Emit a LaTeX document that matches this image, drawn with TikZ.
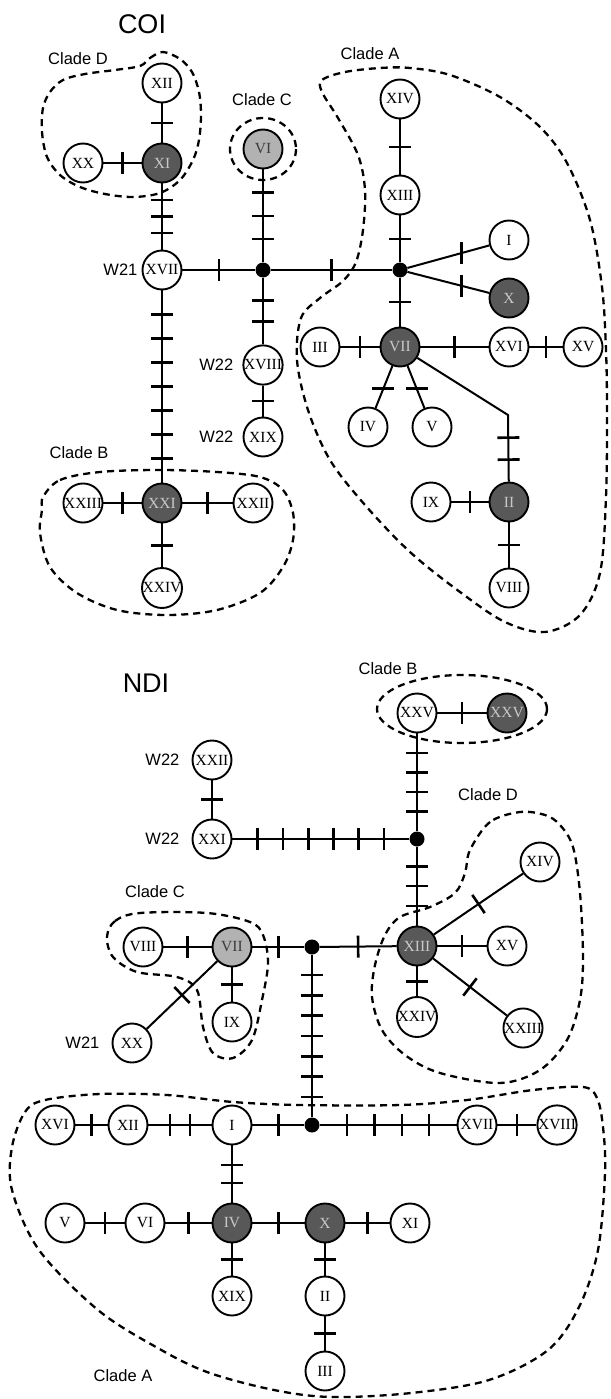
\documentclass[tikz,border=0pt]{standalone}
\usepackage{fontspec}
\setmainfont{Liberation Serif}
\newfontfamily\cladefont{Liberation Sans}
\usetikzlibrary{positioning}
\definecolor{hapdark}{RGB}{88,88,88}
\definecolor{haplight}{RGB}{178,178,178}
\definecolor{hapdarktext}{RGB}{200,200,200}
\definecolor{haplighttext}{RGB}{60,60,60}

\begin{document}
\begin{tikzpicture}[x=1pt,y=-1pt,
  hap/.style={draw,circle,line width=1.9pt,fill=white,minimum size=39pt,inner sep=0pt,
    font=\fontsize{15.5}{15.5}\selectfont},
  hapd/.style={hap,fill=hapdark,text=hapdarktext},
  hapl/.style={hap,fill=haplight,text=haplighttext},
  med/.style={circle,fill=black,minimum size=15pt,inner sep=0pt},
  link/.style={line width=2pt},
  mut/.style={sloped,fill=black,inner sep=0pt,minimum width=2.6pt,minimum height=22pt},
  muth/.style={fill=black,inner sep=0pt,minimum width=22pt,minimum height=2.6pt},
  mutv/.style={fill=black,inner sep=0pt,minimum width=2.6pt,minimum height=22pt},
  clade/.style={line width=2.3pt,dash pattern=on 7pt off 5pt},
  cladelbl/.style={font=\cladefont\fontsize{16.5}{18}\selectfont,inner sep=0pt},
  gene/.style={font=\cladefont\fontsize{27}{30}\selectfont,inner sep=0pt}
]
  \fill[white] (0,0) rectangle (610,1399);
  \useasboundingbox (0,0) rectangle (610,1399);

  % ---------------- COI ----------------
  \node[gene] (coi) at (142,24) {COI};

  % clades
  \draw[clade] plot[smooth cycle,tension=0.55] coordinates {(140,66) (150,58) (163,52) (180,59) (192,72)
    (199,92) (201,115) (199,140) (193,160) (180,180) (160,193) (133,197) (105,194) (80,187) (60,175)
    (47,157) (42,132) (43,108) (50,92) (63,80) (85,74) (115,70)};
  \draw[clade] (263,149) ellipse [x radius=33,y radius=31];
  \draw[clade] plot[smooth cycle,tension=0.55] coordinates {(43,497) (60,480) (100,472) (160,470)
    (217,472) (260,477) (283,490) (293,513) (293,540) (283,567) (260,593) (217,610) (167,615)
    (117,610) (77,593) (50,567) (40,533) (42,510)};
  \draw[clade] plot[smooth cycle,tension=0.55] coordinates {(322,80) (345,72) (380,68) (410,68)
    (450,75) (500,97) (540,127) (567,163) (590,220) (602,287) (606,350) (607,413) (606,497)
    (600,573) (580,615) (545,632) (505,622) (460,592) (410,552) (365,505) (330,460) (308,410)
    (297,360) (301,318) (320,298) (343,281) (356,262) (363,230) (365,190) (358,155) (338,118) (322,92)};
  \node[cladelbl] (coiD) at (78,59) {Clade D};
  \node[cladelbl] (coiC) at (262,100) {Clade C};
  \node[cladelbl] (coiA) at (370,54) {Clade A};
  \node[cladelbl] (coiB) at (79,453) {Clade B};

  % haplotypes
  \node[hap]  (cXII)   at (162,83)  {XII};
  \node[hapd] (cXI)    at (162,163) {XI};
  \node[hap]  (cXX)    at (83,163)  {XX};
  \node[hap]  (cXVII)  at (162,270) {XVII};
  \node[med]  (cm1)    at (263,270) {};
  \node[hapl] (cVI)    at (263,149) {VI};
  \node[hap]  (cXVIII) at (263,365) {XVIII};
  \node[hap]  (cXIX)   at (263,437) {XIX};
  \node[hapd] (cXXI)   at (162,503) {XXI};
  \node[hap]  (cXXIII) at (83,503)  {XXIII};
  \node[hap]  (cXXII)  at (253,503) {XXII};
  \node[hap]  (cXXIV)  at (162,588) {XXIV};
  \node[med]  (cm2)    at (400,270) {};
  \node[hap]  (cXIV)   at (400,99)  {XIV};
  \node[hap]  (cXIII)  at (400,195) {XIII};
  \node[hap]  (cI)     at (509,240) {I};
  \node[hapd] (cX)     at (509,298) {X};
  \node[hapd] (cVII)   at (400,347) {VII};
  \node[hap]  (cIII)   at (320,347) {III};
  \node[hap]  (cXVI)   at (509,347) {XVI};
  \node[hap]  (cXV)    at (583,347) {XV};
  \node[hap]  (cIV)    at (368,427) {IV};
  \node[hap]  (cV)     at (432,427) {V};
  \node[hapd] (cII)    at (509,502) {II};
  \node[hap]  (cIX)    at (431,502) {IX};
  \node[hap]  (cVIII)  at (509,588) {VIII};
  \coordinate (cbend) at (508,415);

  \node[cladelbl,left=4pt of cXVII]  (cw21)  {W21};
  \node[cladelbl,left=9pt of cXVIII] (cw22a) {W22};
  \node[cladelbl,left=9pt of cXIX]   (cw22b) {W22};

  % links and mutations
  \draw[link] (cXII) -- (cXI) node[mut,pos=.5]{};
  \draw[link] (cXX) -- (cXI) node[mut,pos=.5]{};
  \draw[link] (cXI) -- (cXVII) foreach \p in {.25,.5,.75} {node[mut,pos=\p]{}};
  \draw[link] (cXVII) -- (cm1) node[mut,pos=.5]{};
  \draw[link] (cVI) -- (cm1) foreach \p in {.25,.5,.75} {node[mut,pos=\p]{}};
  \draw[link] (cm1) -- (cXVIII) foreach \p in {.34,.66} {node[mut,pos=\p]{}};
  \draw[link] (cXVIII) -- (cXIX) node[mut,pos=.5]{};
  \draw[link] (cXVII) -- (cXXI) foreach \p in {.125,.25,.375,.5,.625,.75,.875} {node[mut,pos=\p]{}};
  \draw[link] (cXXIII) -- (cXXI) node[mut,pos=.5]{};
  \draw[link] (cXXI) -- (cXXII) node[mut,pos=.5]{};
  \draw[link] (cXXI) -- (cXXIV) node[mut,pos=.5]{};
  \draw[link] (cm1) -- (cm2) node[mut,pos=.5]{};
  \draw[link] (cXIV) -- (cXIII) node[mut,pos=.5]{};
  \draw[link] (cXIII) -- (cm2) node[mut,pos=.5]{};
  \draw[link] (cm2) -- (cI) node[mutv,pos=.66]{};
  \draw[link] (cm2) -- (cX) node[mutv,pos=.66]{};
  \draw[link] (cm2) -- (cVII) node[mut,pos=.5]{};
  \draw[link] (cIII) -- (cVII) node[mut,pos=.5]{};
  \draw[link] (cVII) -- (cXVI) node[mut,pos=.5]{};
  \draw[link] (cXVI) -- (cXV) node[mut,pos=.5]{};
  \draw[link] (cVII) -- (cIV) node[muth,pos=.54]{};
  \draw[link] (cVII) -- (cV) node[muth,pos=.54]{};
  \draw[link] (cVII) -- (cbend) -- (cII) foreach \p in {.34,.67} {node[mut,pos=\p]{}};
  \draw[link] (cIX) -- (cII) node[mut,pos=.5]{};
  \draw[link] (cII) -- (cVIII) node[mut,pos=.5]{};

  % ---------------- NDI ----------------
  \node[gene] (ndi) at (146,683) {NDI};

  % clades
  \draw[clade] (462,709) ellipse [x radius=85,y radius=34];
  \draw[clade] plot[smooth cycle,tension=0.55] coordinates {(520,812) (490,822) (470,850) (465,873)
    (455,893) (430,907) (400,917) (385,935) (375,965) (372,997) (382,1030) (405,1055) (440,1073)
    (500,1083) (540,1070) (567,1040) (580,1000) (583,957) (580,893) (573,847) (560,825) (545,815)};
  \draw[clade] plot[smooth cycle,tension=0.55] coordinates {(107,937) (115,921) (140,913) (207,913)
    (250,922) (263,935) (268,963) (262,1000) (252,1040) (233,1058) (213,1053) (203,1027) (197,990)
    (177,977) (137,972) (113,957)};
  \draw[clade] plot[smooth cycle,tension=0.55] coordinates {(12,1147) (25,1112) (45,1100) (100,1094)
    (167,1095) (233,1102) (300,1105) (400,1105) (467,1100) (533,1090) (583,1087) (597,1098)
    (603,1127) (605,1173) (598,1250) (579,1307) (548,1350) (489,1380) (411,1393) (332,1397)
    (274,1390) (207,1372) (156,1347) (98,1310) (39,1250) (12,1190)};
  \node[cladelbl] (ndiB) at (388,669) {Clade B};
  \node[cladelbl] (ndiD) at (488,795) {Clade D};
  \node[cladelbl] (ndiC) at (155,892) {Clade C};
  \node[cladelbl] (ndiA) at (123,1376) {Clade A};

  % haplotypes
  \node[hap]  (nXXII)  at (212,760)  {XXII};
  \node[hap]  (nXXI)   at (212,839)  {XXI};
  \node[med]  (na)     at (417,839)  {};
  \node[hap]  (nXXVa)  at (417,713)  {XXV};
  \node[hapd] (nXXVb)  at (507,713)  {XXV};
  \node[hapd] (nXIII)  at (417,946)  {XIII};
  \node[hap]  (nXIV)   at (540,862)  {XIV};
  \node[hap]  (nXV)    at (507,946)  {XV};
  \node[hap]  (nXXIII) at (523,1028) {XXIII};
  \node[hap]  (nXXIV)  at (417,1017) {XXIV};
  \node[med]  (nb)     at (312,947)  {};
  \node[hapl] (nVII)   at (232,947)  {VII};
  \node[hap]  (nVIII)  at (143,947)  {VIII};
  \node[hap]  (nIX)    at (232,1022) {IX};
  \node[hap]  (nXX)    at (132,1043) {XX};
  \node[med]  (nc)     at (312,1125) {};
  \node[hap]  (nXVI)   at (55,1125)  {XVI};
  \node[hap]  (nXII)   at (128,1125) {XII};
  \node[hap]  (nI)     at (232,1125) {I};
  \node[hap]  (nXVII)  at (477,1125) {XVII};
  \node[hap]  (nXVIII) at (557,1125) {XVIII};
  \node[hapd] (nIV)    at (232,1223) {IV};
  \node[hap]  (nV)     at (65,1223)  {V};
  \node[hap]  (nVI)    at (145,1223) {VI};
  \node[hapd] (nX)     at (325,1223) {X};
  \node[hap]  (nXI)    at (410,1223) {XI};
  \node[hap]  (nXIX)   at (232,1296) {XIX};
  \node[hap]  (nII)    at (325,1296) {II};
  \node[hap]  (nIII)   at (325,1371) {III};

  \node[cladelbl,left=12pt of nXXII] (nw22a) {W22};
  \node[cladelbl,left=12pt of nXXI]  (nw22b) {W22};
  \node[cladelbl,left=12pt of nXX]   (nw21)  {W21};

  % links and mutations
  \draw[link] (nXXII) -- (nXXI) node[mut,pos=.5]{};
  \draw[link] (nXXI) -- (na) foreach \p in {.143,.286,.429,.571,.714,.857} {node[mut,pos=\p]{}};
  \draw[link] (nXXVa) -- (na) foreach \p in {.2,.4,.6,.8} {node[mut,pos=\p]{}};
  \draw[link] (nXXVa) -- (nXXVb) node[mut,pos=.5]{};
  \draw[link] (na) -- (nXIII) foreach \p in {.25,.5,.75} {node[mut,pos=\p]{}};
  \draw[link] (nXIII) -- (nXIV) node[mut,pos=.5]{};
  \draw[link] (nXIII) -- (nXV) node[mut,pos=.5]{};
  \draw[link] (nXIII) -- (nXXIII) node[mut,pos=.5]{};
  \draw[link] (nXIII) -- (nXXIV) node[mut,pos=.5]{};
  \draw[link] (nb) -- (nXIII) node[mut,pos=.5]{};
  \draw[link] (nVII) -- (nb) node[mut,pos=.5]{};
  \draw[link] (nVIII) -- (nVII) node[mut,pos=.5]{};
  \draw[link] (nVII) -- (nIX) node[mut,pos=.5]{};
  \draw[link] (nVII) -- (nXX) node[mut,pos=.5]{};
  \draw[link] (nb) -- (nc) foreach \p in {.125,.25,.375,.5,.625,.75,.875} {node[mut,pos=\p]{}};
  \draw[link] (nXVI) -- (nXII) node[mut,pos=.5]{};
  \draw[link] (nXII) -- (nI) foreach \p in {.34,.66} {node[mut,pos=\p]{}};
  \draw[link] (nI) -- (nc) node[mut,pos=.5]{};
  \draw[link] (nc) -- (nXVII) foreach \p in {.2,.4,.6,.8} {node[mut,pos=\p]{}};
  \draw[link] (nXVII) -- (nXVIII) node[mut,pos=.5]{};
  \draw[link] (nI) -- (nIV) foreach \p in {.34,.66} {node[mut,pos=\p]{}};
  \draw[link] (nV) -- (nVI) node[mut,pos=.5]{};
  \draw[link] (nVI) -- (nIV) node[mut,pos=.5]{};
  \draw[link] (nIV) -- (nX) node[mut,pos=.5]{};
  \draw[link] (nX) -- (nXI) node[mut,pos=.5]{};
  \draw[link] (nIV) -- (nXIX) node[mut,pos=.5]{};
  \draw[link] (nX) -- (nII) node[mut,pos=.5]{};
  \draw[link] (nII) -- (nIII) node[mut,pos=.5]{};
\end{tikzpicture}
\end{document}
